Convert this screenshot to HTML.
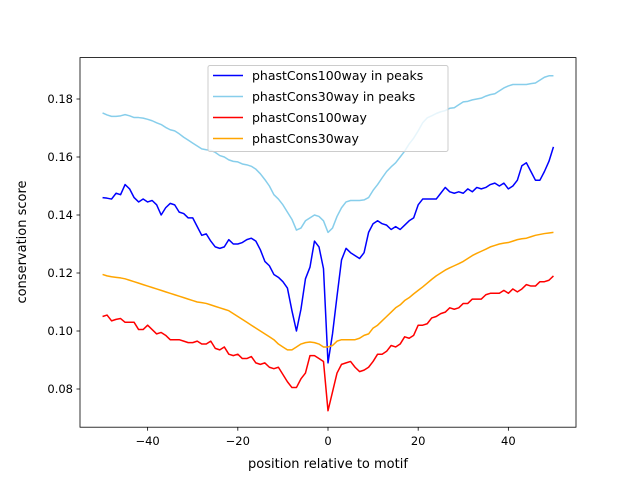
<!DOCTYPE html>
<html><head><meta charset="utf-8"><style>body{margin:0;background:#fff}svg{font-family:"DejaVu Sans","Liberation Sans",sans-serif}</style></head>
<body>
<svg id="chart" width="640" height="480">
<rect x="0" y="0" width="640" height="480" fill="#fff"/>
<g id="plot"></g>
<rect x="80" y="57.6" width="496" height="369.6" fill="none" stroke="#000" stroke-width="0.8"/>
<g id="axes"></g>
<text x="328" y="468" text-anchor="middle" font-size="13">position relative to motif</text>
<text transform="translate(26,242) rotate(-90)" text-anchor="middle" font-size="13">conservation score</text>
<g id="legend"></g>
</svg>
<script>
const positions = [];
for (let i = -50; i <= 50; i++) positions.push(i);
const xTicks = [-40, -20, 0, 20, 40];
const yTicks = [0.08, 0.10, 0.12, 0.14, 0.16, 0.18];
const yTickLabels = ["0.08", "0.10", "0.12", "0.14", "0.16", "0.18"];
const seriesNames = ["phastCons100way in peaks", "phastCons30way in peaks", "phastCons100way", "phastCons30way"];
const seriesColors = ["#0000ff", "#87ceeb", "#ff0000", "#ffa500"];
const peaks100 = [.146,.1458,.1455,.1475,.147,.1505,.149,.146,.1445,.1455,.1445,.145,.1435,.140,.1425,.144,.1435,.141,.1405,.139,.139,.136,.133,.1335,.131,.129,.1285,.129,.1315,.130,.130,.1305,.1315,.132,.131,.128,.124,.1225,.1195,.1185,.117,.1148,.107,.100,.1075,.118,.122,.131,.129,.1215,.089,.099,.112,.1245,.1285,.127,.126,.125,.127,.134,.137,.138,.137,.1365,.135,.136,.135,.1365,.138,.139,.1435,.1455,.1455,.1455,.1455,.1475,.1495,.148,.1475,.148,.1475,.149,.148,.1495,.149,.1495,.1505,.151,.150,.151,.149,.150,.152,.157,.158,.155,.152,.152,.155,.1585,.1635];
const peaks30 = [.1752,.1745,.1740,.1740,.1742,.1746,.1742,.1736,.1736,.1734,.1730,.1725,.1718,.1712,.1702,.1694,.1690,.1680,.1668,.1658,.1648,.1638,.1628,.1625,.1623,.1616,.1605,.1600,.1590,.1585,.1583,.1576,.1573,.1568,.1558,.1542,.1522,.1500,.1470,.1455,.1435,.1410,.1385,.1348,.1355,.1380,.1390,.1400,.1395,.1380,.1340,.1355,.1395,.1425,.1445,.1450,.1450,.1450,.1452,.1460,.1485,.1505,.1528,.1550,.1566,.1580,.1600,.1620,.1645,.1665,.1690,.1718,.1735,.1742,.1750,.1756,.1760,.1768,.1770,.1780,.1790,.1792,.1797,.1800,.1803,.1810,.1815,.1818,.1828,.1838,.1845,.1850,.1850,.1850,.1850,.1853,.1855,.1865,.1875,.1880,.1880];
const all100 = [.105,.1055,.1035,.104,.1043,.103,.103,.103,.1005,.1005,.102,.1005,.099,.0995,.0985,.097,.097,.097,.0965,.096,.096,.0965,.0955,.0955,.0965,.094,.0935,.0945,.092,.0915,.092,.0905,.0905,.0912,.089,.0885,.089,.0875,.087,.0875,.085,.0825,.0805,.0805,.0835,.0855,.0915,.0915,.0905,.0895,.0725,.079,.0855,.0885,.089,.0895,.0875,.086,.0865,.0875,.0895,.092,.092,.093,.095,.0945,.0955,.098,.0975,.0985,.102,.102,.1025,.1045,.105,.106,.1065,.108,.1075,.108,.1095,.1095,.111,.111,.111,.1125,.113,.113,.113,.114,.113,.1145,.1135,.1145,.116,.1155,.1155,.117,.117,.1175,.119];
const all30 = [.1195,.119,.1187,.1185,.1183,.118,.1175,.117,.1165,.116,.1155,.115,.1145,.114,.1135,.113,.1125,.112,.1115,.111,.1105,.110,.1098,.1095,.109,.1085,.108,.1075,.107,.106,.105,.104,.103,.102,.101,.100,.099,.098,.097,.0955,.0945,.0935,.0935,.0945,.0955,.096,.0962,.096,.0955,.0945,.0945,.095,.0965,.097,.097,.097,.097,.0975,.0985,.099,.101,.102,.1035,.105,.1065,.108,.109,.1105,.1115,.1128,.114,.1152,.1165,.1178,.119,.120,.121,.1218,.1225,.1232,.124,.125,.126,.1268,.1275,.1282,.129,.1295,.130,.1303,.1305,.131,.1315,.1318,.132,.1325,.133,.1333,.1336,.1338,.134];
const seriesData = [peaks100, peaks30, all100, all30];
const NS = "http://www.w3.org/2000/svg";
function xs(v){return 80 + (v + 55) * 496 / 110;}
function ys(v){return 99 + (0.18 - v) * 2900;}
const plot = document.getElementById('plot');
seriesData.forEach((arr, s) => {
  const p = document.createElementNS(NS, 'polyline');
  p.setAttribute('points', arr.slice(0, positions.length).map((v, i) => xs(positions[i]).toFixed(2) + ',' + ys(v).toFixed(2)).join(' '));
  p.setAttribute('fill', 'none');
  p.setAttribute('stroke', seriesColors[s]);
  p.setAttribute('stroke-width', '1.5');
  p.setAttribute('stroke-linejoin', 'round');
  
  
  plot.appendChild(p);
});
const axes = document.getElementById('axes');
xTicks.forEach(t => {
  const x = xs(t);
  const l = document.createElementNS(NS, 'line');
  l.setAttribute('x1', x); l.setAttribute('x2', x); l.setAttribute('y1', 427.2); l.setAttribute('y2', 430.7);
  l.setAttribute('stroke', '#000'); l.setAttribute('stroke-width', '0.8');
  
  
  axes.appendChild(l);
  const tx = document.createElementNS(NS, 'text');
  tx.setAttribute('x', x); tx.setAttribute('y', 445); tx.setAttribute('text-anchor', 'middle'); tx.setAttribute('font-size', '11.5');
  tx.textContent = t < 0 ? '\u2212' + Math.abs(t) : String(t);
  
  
  axes.appendChild(tx);
});
yTicks.forEach((t, i) => {
  const y = ys(t);
  const l = document.createElementNS(NS, 'line');
  l.setAttribute('x1', 76.5); l.setAttribute('x2', 80); l.setAttribute('y1', y); l.setAttribute('y2', y);
  l.setAttribute('stroke', '#000'); l.setAttribute('stroke-width', '0.8');
  
  
  axes.appendChild(l);
  const tx = document.createElementNS(NS, 'text');
  tx.setAttribute('x', 73); tx.setAttribute('y', y + 4); tx.setAttribute('text-anchor', 'end'); tx.setAttribute('font-size', '11.5');
  tx.textContent = yTickLabels[i];
  
  
  axes.appendChild(tx);
});
const lg = document.getElementById('legend');
const box = document.createElementNS(NS, 'rect');
box.setAttribute('x', 208); box.setAttribute('y', 65.5); box.setAttribute('width', 240); box.setAttribute('height', 86); box.setAttribute('rx', 2);
box.setAttribute('fill', '#fff'); box.setAttribute('fill-opacity', '0.8'); box.setAttribute('stroke', '#ccc');


lg.appendChild(box);
seriesNames.forEach((n, i) => {
  const y = 75.5 + i * 21;
  const l = document.createElementNS(NS, 'line');
  l.setAttribute('x1', 213); l.setAttribute('x2', 243); l.setAttribute('y1', y); l.setAttribute('y2', y);
  l.setAttribute('stroke', seriesColors[i]); l.setAttribute('stroke-width', '1.5');
  
  
  lg.appendChild(l);
  const tx = document.createElementNS(NS, 'text');
  tx.setAttribute('x', 252); tx.setAttribute('y', y + 4.5); tx.setAttribute('font-size', '12.5');
  tx.textContent = n;
  
  
  lg.appendChild(tx);
});
</script>
</body></html>
